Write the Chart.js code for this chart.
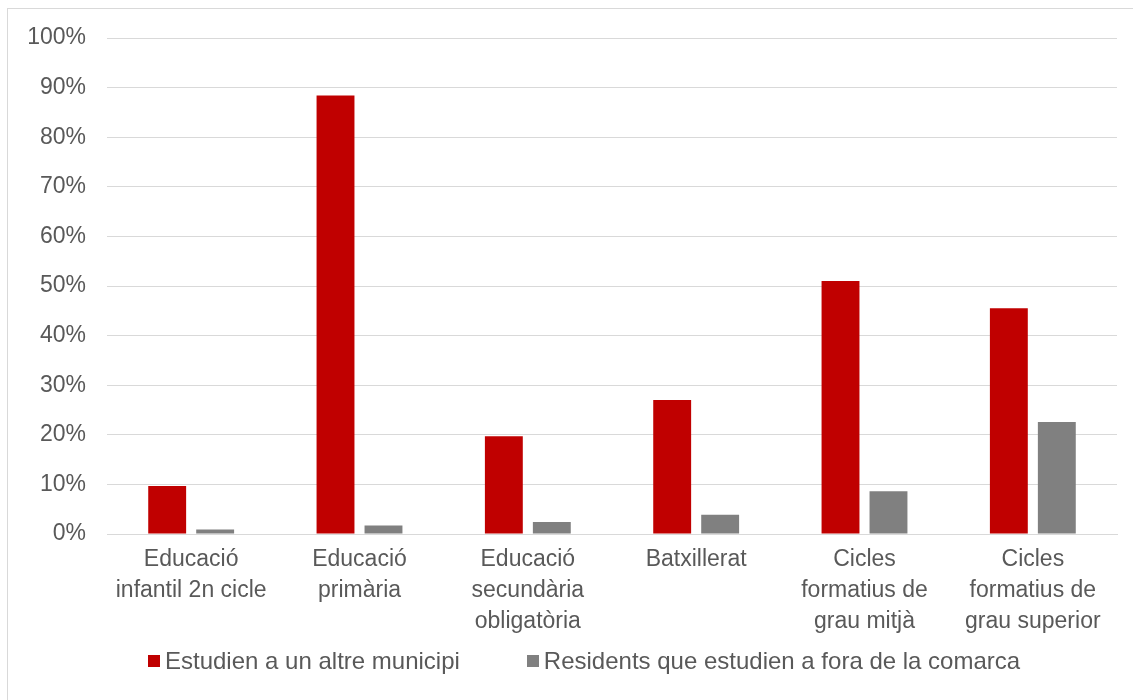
<!DOCTYPE html>
<html>
<head>
<meta charset="utf-8">
<script src="https://cdn.jsdelivr.net/npm/chart.js@4.4.1/dist/chart.umd.min.js"></script>
<style>
  html, body { margin: 0; padding: 0; background: #fff; }
  #wrap { position: relative; width: 1133px; height: 700px; overflow: hidden; }
  #frame { position: absolute; left: 7px; top: 8px; width: 1200px; height: 800px;
           border-left: 1px solid #d9d9d9; border-top: 1px solid #d9d9d9; box-sizing: border-box; }
  canvas { position: absolute; left: 0; top: 0; }
  #legend { position: absolute; left: 148px; top: 647px; display: flex; gap: 67px;
            font-family: "Liberation Sans", Arial, sans-serif; font-size: 24px; color: #595959; }
  .item { display: flex; align-items: center; }
  .box { width: 12px; height: 12px; margin-right: 5px; }
</style>
</head>
<body>
<div id="wrap">
  <div id="frame"></div>
  <canvas id="c" width="1133" height="700"></canvas>
  <div id="legend"></div>
</div>
<script>
const categories = [
  ['Educació', 'infantil 2n cicle'],
  ['Educació', 'primària'],
  ['Educació', 'secundària', 'obligatòria'],
  'Batxillerat',
  ['Cicles', 'formatius de', 'grau mitjà'],
  ['Cicles', 'formatius de', 'grau superior']
];
const seriesNames = ['Estudien a un altre municipi', 'Residents que estudien a fora de la comarca'];
const altreMunicipi = [9.7, 88.4, 19.7, 27.0, 51.0, 45.5];
const foraComarca = [0.9, 1.7, 2.4, 3.9, 8.6, 22.6];
const yTicks = [0, 10, 20, 30, 40, 50, 60, 70, 80, 90, 100];
const colors = ['#C00000', '#808080'];

const font = { family: '"Liberation Sans", Arial, sans-serif', size: 23 };

new Chart(document.getElementById('c'), {
  type: 'bar',
  data: {
    labels: categories,
    datasets: [
      { label: seriesNames[0], data: altreMunicipi, backgroundColor: colors[0],
        categoryPercentage: 0.57, barPercentage: 0.79 },
      { label: seriesNames[1], data: foraComarca, backgroundColor: colors[1],
        categoryPercentage: 0.57, barPercentage: 0.79 }
    ]
  },
  options: {
    responsive: false,
    animation: false,
    layout: { padding: { top: 38, right: 16, left: 0, bottom: 0 } },
    plugins: { legend: { display: false }, tooltip: { enabled: false } },
    scales: {
      y: {
        min: 0, max: 100,
        afterBuildTicks: (s) => { s.ticks = yTicks.map(v => ({ value: v })); },
        afterFit: (s) => { s.width = 107; },
        border: { display: false },
        grid: { color: '#d9d9d9', lineWidth: 1, drawTicks: false },
        ticks: { color: '#595959', font: font, padding: 21, callback: (v) => v + '%' }
      },
      x: {
        afterFit: (s) => { s.height = 166; },
        border: { display: true, color: '#d9d9d9' },
        grid: { display: false, drawTicks: false },
        ticks: { color: '#595959', font: Object.assign({ lineHeight: 1.35 }, font), padding: 10,
                 maxRotation: 0, autoSkip: false }
      }
    }
  }
});

const legend = document.getElementById('legend');
seriesNames.forEach((name, i) => {
  const it = document.createElement('div');
  it.className = 'item';
  const b = document.createElement('div');
  b.className = 'box';
  b.style.background = colors[i];
  const t = document.createElement('span');
  t.textContent = name;
  it.appendChild(b); it.appendChild(t);
  legend.appendChild(it);
});
</script>
</body>
</html>
